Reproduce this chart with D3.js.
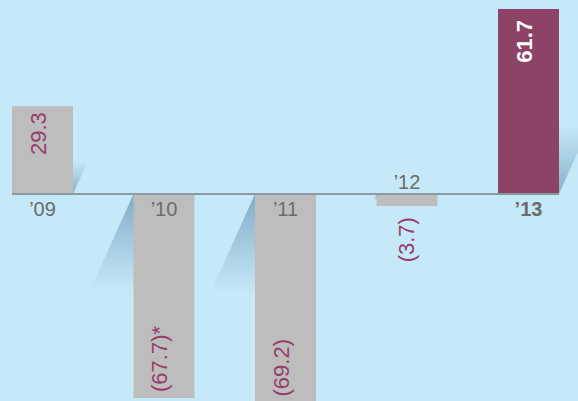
<!DOCTYPE html>
<html>
<head>
<meta charset="utf-8">
<script src="https://cdn.jsdelivr.net/npm/d3@7/dist/d3.min.js"></script>
<style>
  html, body { margin: 0; padding: 0; background: #c6e9f9; }
  svg { display: block; }
  text { font-family: "Liberation Sans", Arial, Helvetica, sans-serif; }
</style>
</head>
<body>
<div id="chart"></div>
<script>
// ---- data ----
const categories = ["\u201909", "\u201910", "\u201911", "\u201912", "\u201913"];
const values = [29.3, -67.7, -69.2, -3.7, 61.7];
const valueLabels = ["29.3", "(67.7)*", "(69.2)", "(3.7)", "61.7"];
const highlighted = ["\u201913"];

// ---- layout ----
const W = 578, H = 401;
const svg = d3.select("#chart").append("svg")
  .attr("width", W).attr("height", H);

svg.append("rect").attr("width", W).attr("height", H).attr("fill", "#c6e9f9");

const x = d3.scaleBand().domain(categories).range([12, 559])
  .paddingInner(0.498).paddingOuter(0);
const y = d3.scaleLinear().domain([0, 61.7]).range([194, 9]);
const y0 = y(0);

const data = categories.map((c, i) => ({ cat: c, v: values[i], label: valueLabels[i], hi: highlighted.includes(c) }));

// gradients for shadows
const defs = svg.append("defs");
const gUp = defs.append("linearGradient").attr("id", "shUp")
  .attr("x1", 0).attr("y1", 1).attr("x2", 0).attr("y2", 0);
gUp.append("stop").attr("offset", 0).attr("stop-color", "#5683a1").attr("stop-opacity", 0.55);
gUp.append("stop").attr("offset", 0.37).attr("stop-color", "#5683a1").attr("stop-opacity", 0);
const gDown = defs.append("linearGradient").attr("id", "shDown")
  .attr("x1", 0).attr("y1", 0).attr("x2", 0).attr("y2", 1);
gDown.append("stop").attr("offset", 0).attr("stop-color", "#5683a1").attr("stop-opacity", 0.6);
gDown.append("stop").attr("offset", 0.47).attr("stop-color", "#5683a1").attr("stop-opacity", 0);

const skewDeg = -Math.atan(0.45) * 180 / Math.PI;

// shadows (skewed copies behind bars)
const shadowG = svg.append("g").attr("transform", `translate(0,${y0})`);
shadowG.selectAll("rect").data(data).join("rect")
  .attr("transform", `skewX(${skewDeg})`)
  .attr("x", d => x(d.cat))
  .attr("width", x.bandwidth())
  .attr("y", d => d.v >= 0 ? y(d.v) - y0 : 1)
  .attr("height", d => Math.abs(y(d.v) - y0))
  .attr("fill", d => d.v >= 0 ? "url(#shUp)" : "url(#shDown)");

// bars
svg.append("g").selectAll("rect").data(data).join("rect")
  .attr("x", d => x(d.cat))
  .attr("width", x.bandwidth())
  .attr("y", d => d.v >= 0 ? y(d.v) : y0 + 1)
  .attr("height", d => d.v >= 0 ? y0 - y(d.v) : y(d.v) - y0)
  .attr("fill", d => d.hi ? "#8d4268" : "#bdbdbd");

// baseline
svg.append("line")
  .attr("x1", x.range()[0]).attr("x2", x(categories[categories.length - 1]) + x.bandwidth())
  .attr("y1", y0).attr("y2", y0)
  .attr("stroke", "#8a99a1").attr("stroke-width", 2);

// category labels
svg.append("g").selectAll("text").data(data).join("text")
  .attr("x", d => x(d.cat) + x.bandwidth() / 2)
  .attr("y", d => (d.v < 0 && (y(d.v) - y0) < 30) ? y0 - 5 : y0 + 22)
  .attr("text-anchor", "middle")
  .attr("font-size", 20)
  .attr("font-weight", d => d.hi ? "bold" : "normal")
  .attr("fill", "#6c6c6c")
  .text(d => d.cat);

// value labels (rotated)
svg.append("g").selectAll("text").data(data).join("text")
  .attr("transform", d => {
    const cx = x(d.cat) + x.bandwidth() / 2;
    const short = d.v < 0 && (y(d.v) - y0) < 30;
    let ty;
    if (d.v >= 0) ty = y(d.v) + (d.hi ? 11 : 6);
    else if (short) ty = y(d.v) + 12;
    else ty = y(d.v) - 5;
    return `translate(${cx + (short ? 7 : 3.5)},${ty}) rotate(-90)`;
  })
  .attr("text-anchor", d => (d.v >= 0 || (y(d.v) - y0) < 30) ? "end" : "start")
  .attr("font-size", 22)
  .attr("font-weight", d => d.hi ? "bold" : "normal")
  .attr("fill", d => d.hi ? "#ffffff" : "#973d6a")
  .text(d => d.label);
</script>
</body>
</html>
